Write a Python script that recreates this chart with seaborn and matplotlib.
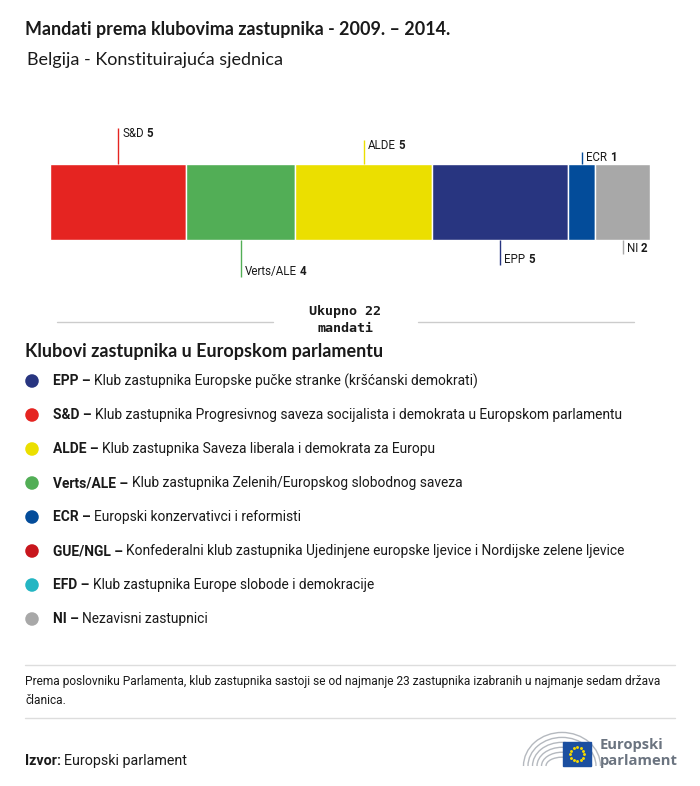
"""
Mandati prema klubovima zastupnika - Belgija 2009.-2014.
"""

import numpy as np
import matplotlib
matplotlib.use("Agg")
import matplotlib.pyplot as plt
from matplotlib.transforms import IdentityTransform
from matplotlib.patches import Arc, Rectangle
import seaborn as sns

# --- data -----------------------------------------------------------------
groups = ["S&D", "Verts/ALE", "ALDE", "EPP", "ECR", "NI"]
seats = [5, 4, 5, 5, 1, 2]
group_colors = ["#e52421", "#52ae56", "#ebdf00", "#283580", "#034c9a", "#a8a8a8"]

legend_codes = ["EPP", "S&D", "ALDE", "Verts/ALE", "ECR", "GUE/NGL", "EFD", "NI"]
legend_names = [
    "Klub zastupnika Europske pučke stranke (kršćanski demokrati)",
    "Klub zastupnika Progresivnog saveza socijalista i demokrata u Europskom parlamentu",
    "Klub zastupnika Saveza liberala i demokrata za Europu",
    "Klub zastupnika Zelenih/Europskog slobodnog saveza",
    "Europski konzervativci i reformisti",
    "Konfederalni klub zastupnika Ujedinjene europske ljevice i Nordijske zelene ljevice",
    "Klub zastupnika Europe slobode i demokracije",
    "Nezavisni zastupnici",
]
legend_colors = ["#283580", "#e52421", "#ebdf00", "#52ae56", "#034c9a",
                 "#c8161d", "#24b6c3", "#a8a8a8"]

title = "Mandati prema klubovima zastupnika - 2009. – 2014."
subtitle = "Belgija - Konstituirajuća sjednica"
note = ("Prema poslovniku Parlamenta, klub zastupnika sastoji se od najmanje 23 "
        "zastupnika izabranih u najmanje sedam država\nčlanica.")

W, H = 700, 786
TXT = "#1a1a1a"

sns.set_theme(style="white")
plt.rcParams["font.family"] = ["Roboto", "DejaVu Sans"]

fig = plt.figure(figsize=(W / 100, H / 100), dpi=100)
renderer = fig.canvas.get_renderer()

# background axes in pixel coordinates (y down)
bg = fig.add_axes([0, 0, 1, 1])
bg.set_xlim(0, W)
bg.set_ylim(H, 0)
bg.axis("off")


def px(x, y):
    return bg.transData.transform((x, y))


def rich(xy_disp, parts, size, va="center", gap=3.5, family=None):
    x, y = xy_disp
    for s, weight, color in parts:
        t = fig.text(x, y, s, transform=IdentityTransform(), fontsize=size,
                     fontweight=weight, color=color, va=va, ha="left",
                     family=family or plt.rcParams["font.family"])
        x = t.get_window_extent(renderer).x1 + gap


# --- titles ---------------------------------------------------------------
bg.text(25, 30, title, fontsize=12.9, fontweight="bold", color=TXT,
        va="center", family=["Lato", "DejaVu Sans"])
bg.text(27, 60, subtitle, fontsize=13, color=TXT, va="center",
        family=["Lato", "DejaVu Sans"])

# --- stacked bar ----------------------------------------------------------
ax = fig.add_axes([50 / W, 1 - 300 / H, 600 / W, 200 / H])
ax.set_xlim(0, sum(seats))
ax.set_ylim(300, 100)
ax.axis("off")

lefts = np.concatenate([[0], np.cumsum(seats)[:-1]])
ax.barh([202] * len(seats), seats, left=lefts, height=76,
        color=group_colors, edgecolor="white", linewidth=1)

# label positions: above / below alternating, decreasing leader length
lead = [(128, 164, "top"), (240, 277, "bottom"), (140, 164, "top"),
        (240, 265, "bottom"), (152, 164, "top"), (240, 254, "bottom")]
for i, (g, n, c) in enumerate(zip(groups, seats, group_colors)):
    xc = lefts[i] + n / 2
    y0, y1, side = lead[i]
    ax.plot([xc, xc], [y0, y1], color=c, lw=1, solid_capstyle="butt")
    dx, _ = ax.transData.transform((xc, 0))
    if side == "top":
        _, dy = ax.transData.transform((0, y0 - 1))
        va = "top"
    else:
        _, dy = ax.transData.transform((0, y1 + 1))
        va = "bottom"
    rich((dx + 4, dy), [(g, "normal", TXT), (str(n), "bold", TXT)],
         size=8.3, va=va, gap=3)

# --- total ----------------------------------------------------------------
bg.plot([57, 273], [322, 322], color="#cccccc", lw=1)
bg.plot([418, 634], [322, 322], color="#cccccc", lw=1)
bg.text(345, 320, f"Ukupno {sum(seats)}\nmandati", ha="center", va="center",
        fontsize=9.6, fontweight="bold", color=TXT, linespacing=1.4,
        family=["DejaVu Sans Mono"])

# --- legend ---------------------------------------------------------------
bg.text(25, 352, "Klubovi zastupnika u Europskom parlamentu", fontsize=13,
        fontweight="bold", color=TXT, va="center", family=["Lato", "DejaVu Sans"])

leg_y = 381 + 34 * np.arange(len(legend_codes))
sns.scatterplot(x=[32] * len(legend_codes), y=leg_y, hue=legend_codes,
                palette=dict(zip(legend_codes, legend_colors)), s=95,
                linewidth=0, legend=False, ax=bg, zorder=3)
for code, name, y in zip(legend_codes, legend_names, leg_y):
    rich(px(53, y), [(code + " –", "bold", TXT), (name, "normal", TXT)],
         size=9.9, va="center", gap=3.5)

# --- footer ---------------------------------------------------------------
bg.plot([25, 675], [665, 665], color="#dddddd", lw=1)
bg.text(25, 691, note, fontsize=8.6, color=TXT, va="center", linespacing=1.65)
bg.plot([25, 675], [718, 718], color="#dddddd", lw=1)
rich(px(25, 761), [("Izvor:", "bold", TXT), ("Europski parlament", "normal", TXT)],
     size=10.3, va="center", gap=3)

# logo: hemicycle, flag, name
for r in np.arange(8, 34, 4.5):
    bg.add_patch(Arc((562, 766), 2 * r + 16, 2 * r * 1.1, theta1=180, theta2=360,
                     color="#b5b9bf", lw=1))
bg.add_patch(Rectangle((563, 742), 28, 24, color="#1b4fa0", zorder=4))
ang = np.linspace(0, 2 * np.pi, 13)[:-1]
bg.scatter(577 + 7 * np.cos(ang), 754 + 7 * np.sin(ang), s=1.2,
           color="#f5d800", zorder=5)
bg.text(600, 745, "Europski", fontsize=10.6, fontweight="bold", color="#6b7480",
        va="center", family=["Open Sans", "DejaVu Sans"])
bg.text(600, 761, "parlament", fontsize=10.6, fontweight="bold", color="#6b7480",
        va="center", family=["Open Sans", "DejaVu Sans"])

fig.savefig("out.png", dpi=100)
plt.close(fig)
